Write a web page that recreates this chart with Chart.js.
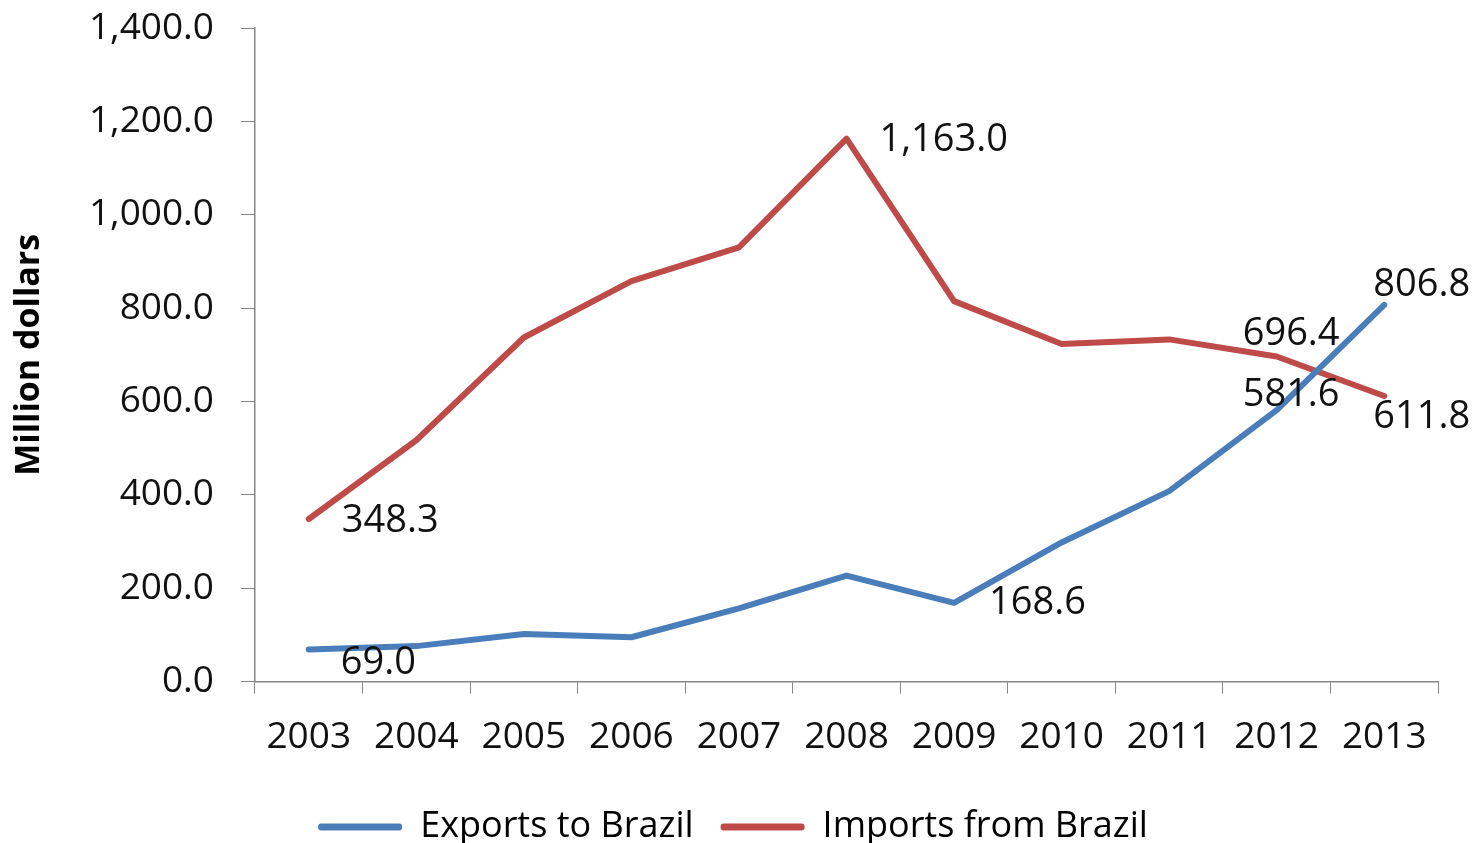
<!DOCTYPE html>
<html>
<head>
<meta charset="utf-8">
<script src="https://cdn.jsdelivr.net/npm/chart.js@4"></script>
<style>
  html, body { margin: 0; padding: 0; background: #fff; }
  #wrap { width: 1477px; height: 843px; position: relative; }
</style>
</head>
<body>
<div id="wrap"><canvas id="c" width="1477" height="843"></canvas></div>
<script>
const years = ['2003','2004','2005','2006','2007','2008','2009','2010','2011','2012','2013'];
const exportsToBrazil = [69.0, 76, 102, 95, 157, 227, 168.6, 298, 408, 581.6, 806.8];
const importsFromBrazil = [348.3, 517, 737, 858, 930, 1163.0, 815, 723, 733, 696.4, 611.8];
const exportsLabelIdx = [0, 6, 9, 10];
const importsLabelIdx = [0, 5, 9, 10];
const yTicks = [0, 200, 400, 600, 800, 1000, 1200, 1400];

const fmt = v => v.toLocaleString('en-US', {minimumFractionDigits: 1, maximumFractionDigits: 1});
const FONT = '"Open Sans", "Liberation Sans", sans-serif';

const labelPlugin = {
  id: 'pointLabels',
  afterDatasetsDraw(chart, args, opts) {
    const ctx = chart.ctx;
    ctx.save();
    ctx.font = '38px ' + FONT;
    ctx.fillStyle = '#111';
    ctx.textBaseline = 'middle';
    ctx.textAlign = 'left';
    chart.data.datasets.forEach((ds, di) => {
      const meta = chart.getDatasetMeta(di);
      const idxs = di === 0 ? exportsLabelIdx : importsLabelIdx;
      const offs = opts.offsets[di];
      idxs.forEach((idx, k) => {
        const p = meta.data[idx];
        ctx.fillText(fmt(ds.data[idx]), p.x + offs[k][0], p.y + offs[k][1]);
      });
    });
    ctx.restore();
  }
};

new Chart(document.getElementById('c'), {
  type: 'line',
  data: {
    labels: years,
    datasets: [
      { label: 'Exports to Brazil', data: exportsToBrazil, borderColor: '#4A7EBB', backgroundColor: '#4A7EBB',
        borderWidth: 6, pointRadius: 0, tension: 0, borderJoinStyle: 'round', borderCapStyle: 'round' },
      { label: 'Imports from Brazil', data: importsFromBrazil, borderColor: '#BE4B48', backgroundColor: '#BE4B48',
        borderWidth: 6, pointRadius: 0, tension: 0, borderJoinStyle: 'round', borderCapStyle: 'round' }
    ]
  },
  options: {
    responsive: false,
    animation: false,
    layout: { padding: { top: 28, right: 39, bottom: -12, left: 28 } },
    plugins: {
      tooltip: { enabled: false },
      pointLabels: {
        offsets: [
          [[32, 14], [35, 0], [-34, -15], [-11, -20]],
          [[33, 2], [33, 2], [-34, -22], [-11, 21]]
        ]
      },
      legend: {
        position: 'bottom',
        labels: {
          color: '#000',
          font: { family: FONT, size: 36 },
          boxWidth: 84,
          boxHeight: 7,
          padding: 27,
          generateLabels(chart) {
            return chart.data.datasets.map((ds, i) => ({
              text: ds.label, fillStyle: ds.borderColor, strokeStyle: ds.borderColor,
              lineWidth: 0, datasetIndex: i, fontColor: '#000', borderRadius: 3
            }));
          }
        }
      }
    },
    scales: {
      x: {
        offset: true,
        grid: { display: true, offset: true, drawOnChartArea: false, drawTicks: true, tickLength: 12, color: '#868686' },
        border: { display: true, color: '#868686', width: 1.5 },
        ticks: { color: '#111', font: { family: FONT, size: 37 }, padding: 22, maxRotation: 0, autoSkip: false }
      },
      y: {
        min: 0, max: 1400,
        afterBuildTicks(scale) { scale.ticks = yTicks.map(v => ({ value: v })); },
        afterFit(scale) { scale.width = 227; scale.paddingTop = 0; scale.paddingBottom = 0; },
        grid: { display: true, drawOnChartArea: false, drawTicks: true, tickLength: 14, color: '#868686' },
        border: { display: true, color: '#868686', width: 1.5 },
        ticks: { color: '#111', font: { family: FONT, size: 37 }, padding: 27, callback: v => fmt(v) },
        title: { display: true, text: 'Million dollars', color: '#000',
          font: { family: FONT, size: 34, weight: 'bold' }, padding: { top: -19, bottom: 0 } }
      }
    }
  },
  plugins: [labelPlugin]
});
</script>
</body>
</html>
